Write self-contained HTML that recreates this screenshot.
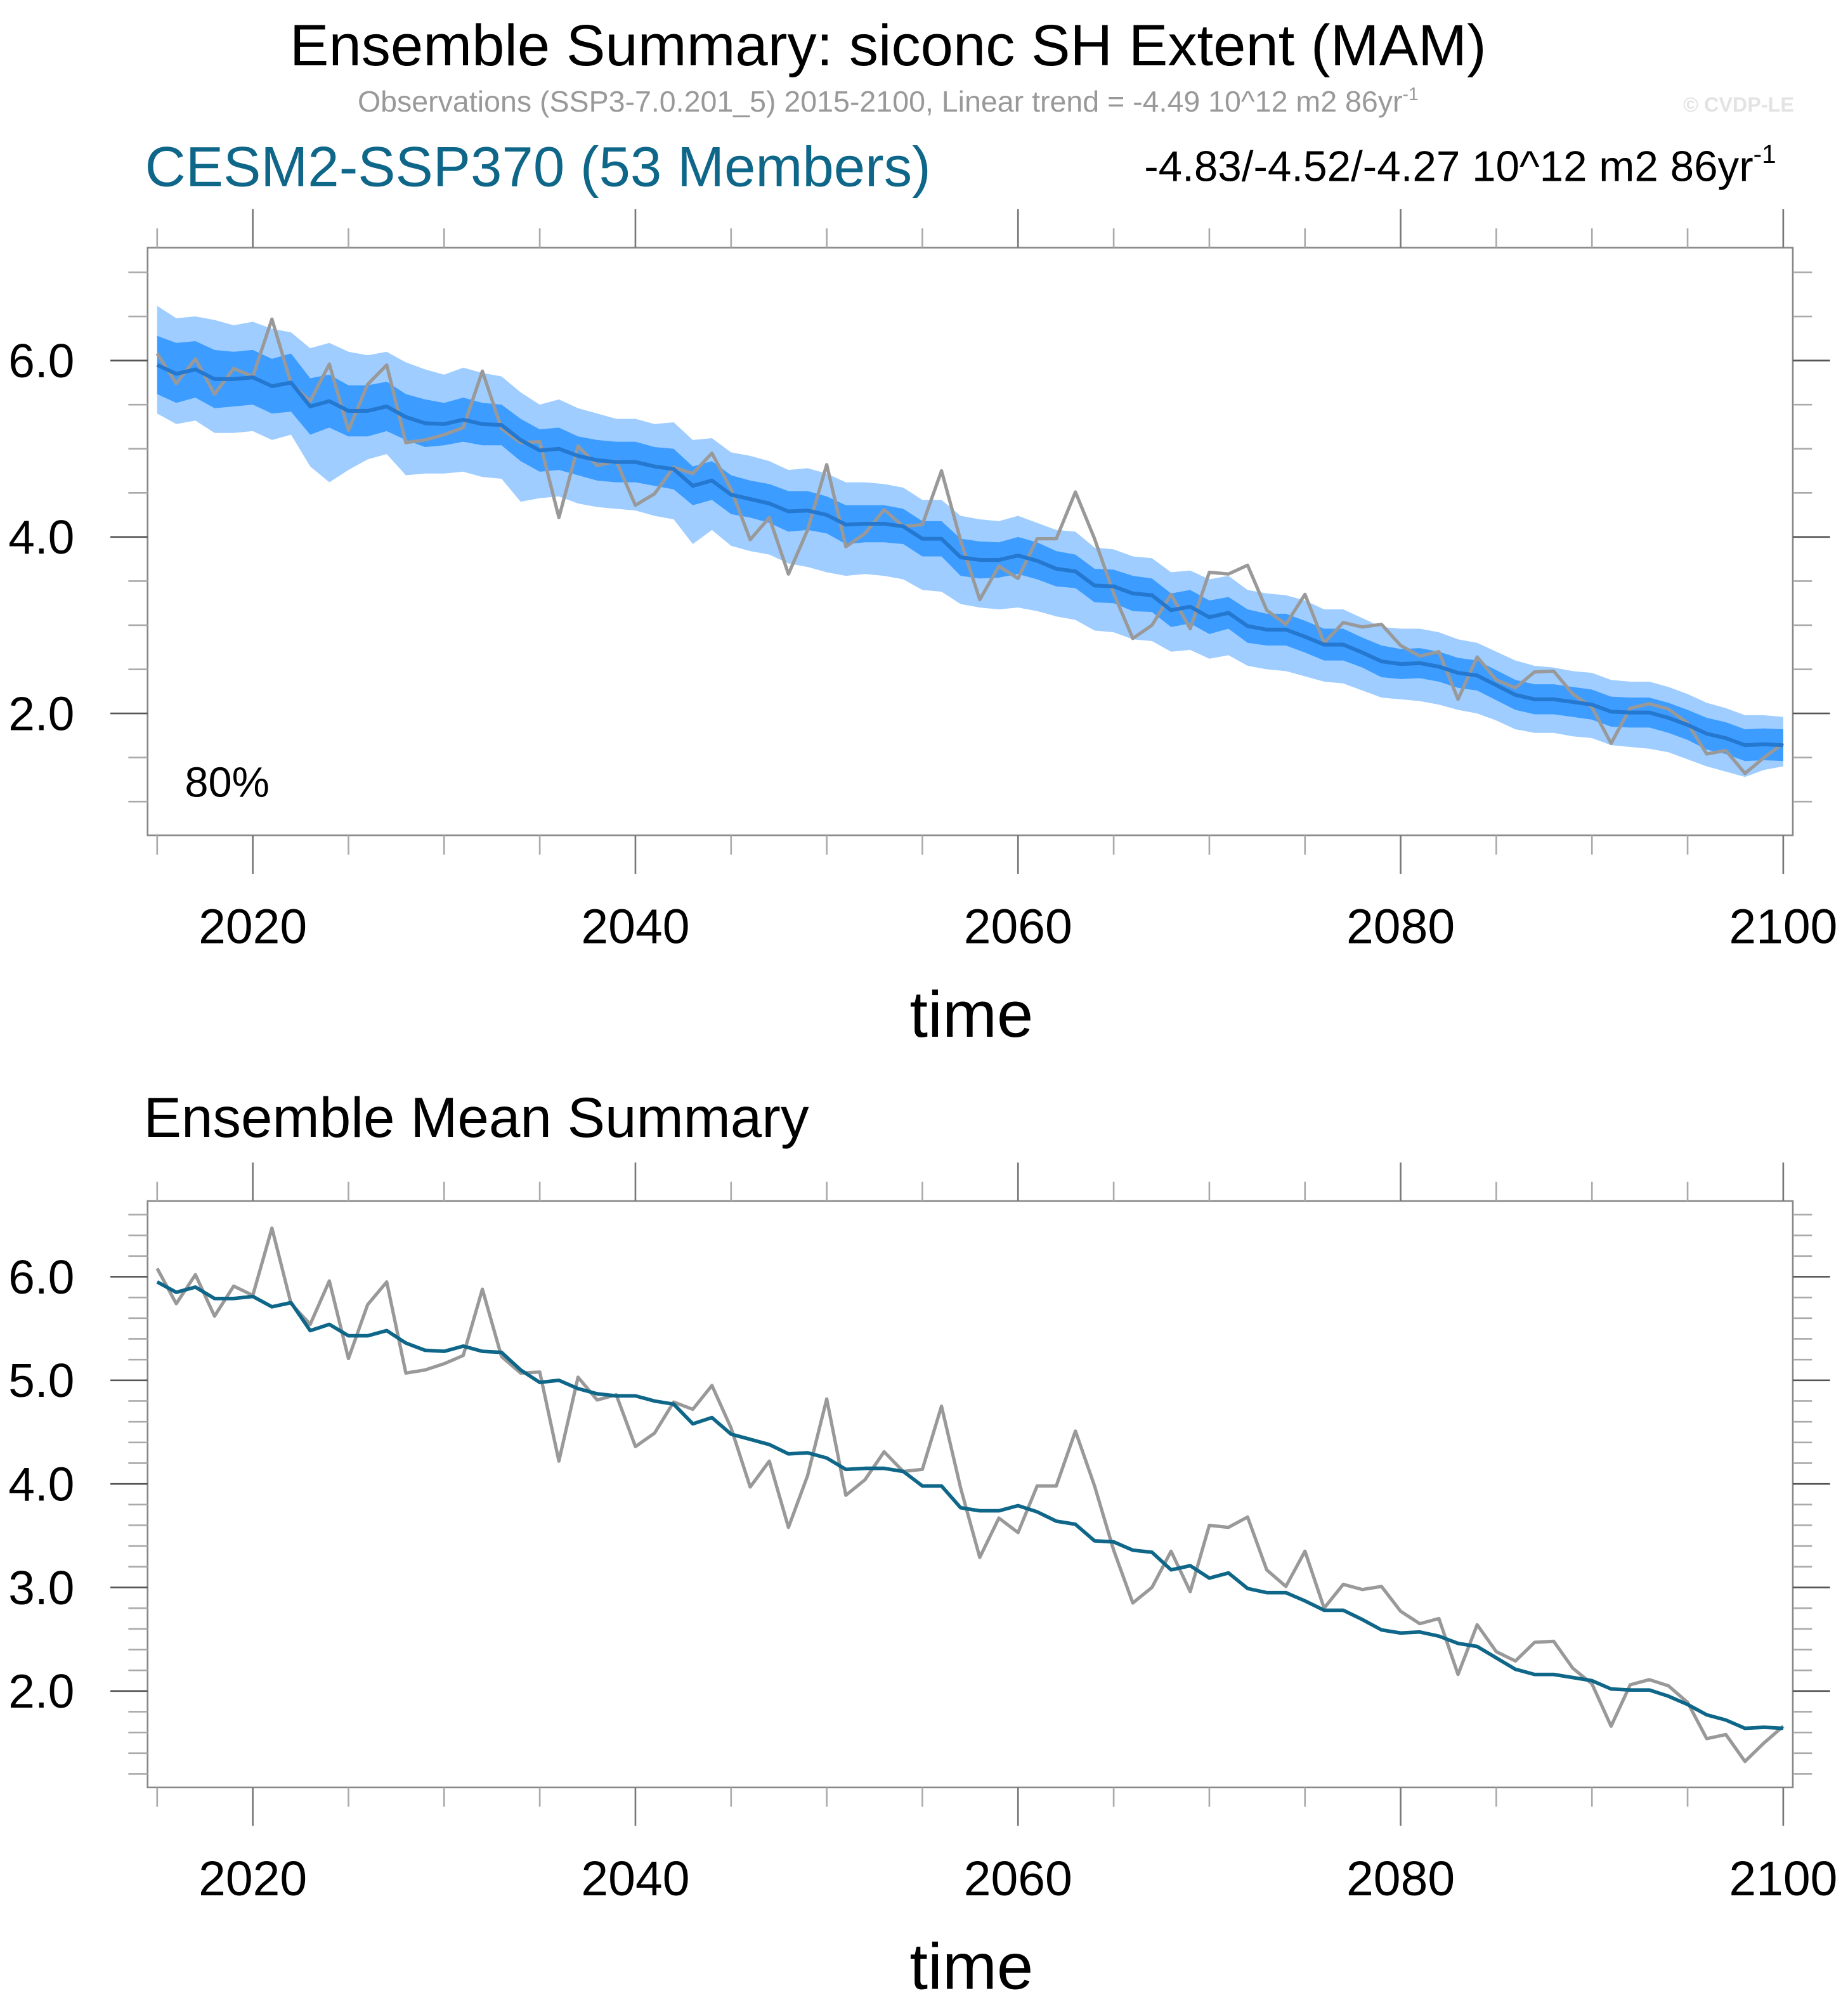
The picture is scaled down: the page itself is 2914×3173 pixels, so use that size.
<!DOCTYPE html>
<html><head><meta charset="utf-8"><style>
html,body{margin:0;padding:0;background:#fff;}
svg{display:block;font-family:"Liberation Sans",sans-serif;}
</style></head><body>
<svg id="chart" width="2914" height="3173" viewBox="0 0 1440 1568" xmlns="http://www.w3.org/2000/svg">
<rect width="1440" height="1568" fill="#fff"/>
<text x="692" y="51" font-size="45.6" text-anchor="middle" fill="#000">Ensemble Summary: siconc SH Extent (MAM)</text>
<text x="692" y="87" font-size="23" text-anchor="middle" fill="#999">Observations (SSP3-7.0.201_5) 2015-2100, Linear trend = -4.49 10^12 m2 86yr<tspan font-size="14" dy="-9">-1</tspan></text>
<text x="1398" y="87" font-size="16" font-weight="bold" text-anchor="end" fill="#e3e3e3">© CVDP-LE</text>
<text x="113" y="145" font-size="43.9" fill="#0e6688">CESM2-SSP370 (53 Members)</text>
<text x="1384" y="141" font-size="33.3" text-anchor="end" fill="#000">-4.83/-4.52/-4.27 10^12 m2 86yr<tspan font-size="20" dy="-14">-1</tspan></text>
<text x="112" y="886" font-size="44" fill="#000">Ensemble Mean Summary</text>
<g id="top"></g>
<g id="bot"></g>
</svg>
<script>
const years = [];
for (let y = 2015; y <= 2100; y++) years.push(y);
const obs = [6.08,5.74,6.02,5.62,5.91,5.82,6.47,5.74,5.54,5.96,5.21,5.73,5.95,5.07,5.10,5.16,5.24,5.88,5.23,5.07,5.08,4.22,5.03,4.81,4.86,4.36,4.49,4.79,4.72,4.95,4.54,3.97,4.22,3.58,4.08,4.82,3.89,4.04,4.31,4.12,4.14,4.75,3.96,3.29,3.67,3.53,3.98,3.98,4.51,3.98,3.36,2.85,3.00,3.35,2.96,3.60,3.58,3.68,3.17,3.01,3.35,2.80,3.03,2.98,3.01,2.77,2.65,2.70,2.16,2.64,2.38,2.29,2.47,2.48,2.22,2.07,1.66,2.06,2.11,2.05,1.89,1.54,1.58,1.32,1.50,1.66];
const ensMean = [5.95,5.85,5.90,5.79,5.79,5.81,5.71,5.75,5.48,5.54,5.43,5.43,5.48,5.36,5.29,5.28,5.33,5.28,5.27,5.10,4.98,5.00,4.92,4.87,4.85,4.85,4.80,4.77,4.58,4.64,4.48,4.43,4.38,4.29,4.30,4.25,4.14,4.15,4.15,4.12,3.98,3.98,3.77,3.74,3.74,3.79,3.73,3.64,3.61,3.45,3.44,3.36,3.34,3.17,3.21,3.09,3.14,2.99,2.95,2.95,2.87,2.78,2.78,2.69,2.59,2.56,2.57,2.53,2.46,2.43,2.32,2.21,2.16,2.16,2.13,2.10,2.02,2.01,2.01,1.95,1.87,1.77,1.72,1.64,1.65,1.64];
const darkHi = [6.28,6.20,6.22,6.12,6.10,6.12,6.02,6.08,5.80,5.84,5.72,5.72,5.76,5.62,5.56,5.52,5.58,5.52,5.50,5.34,5.22,5.24,5.14,5.10,5.08,5.08,5.02,5.00,4.80,4.86,4.70,4.64,4.60,4.52,4.52,4.46,4.36,4.36,4.36,4.32,4.18,4.18,3.98,3.95,3.94,4.00,3.94,3.84,3.80,3.64,3.63,3.56,3.53,3.36,3.40,3.28,3.32,3.18,3.13,3.13,3.05,2.96,2.96,2.86,2.77,2.73,2.74,2.70,2.63,2.60,2.49,2.38,2.33,2.33,2.30,2.27,2.19,2.18,2.18,2.12,2.04,1.95,1.90,1.82,1.83,1.82];
const darkLo = [5.62,5.52,5.58,5.46,5.48,5.50,5.40,5.42,5.16,5.24,5.14,5.14,5.20,5.10,5.02,5.04,5.08,5.04,5.04,4.86,4.74,4.76,4.70,4.64,4.62,4.62,4.58,4.54,4.36,4.42,4.26,4.22,4.16,4.06,4.08,4.04,3.92,3.94,3.94,3.92,3.78,3.78,3.56,3.53,3.54,3.58,3.52,3.44,3.42,3.26,3.25,3.16,3.15,2.98,3.02,2.90,2.96,2.80,2.77,2.77,2.69,2.60,2.60,2.52,2.41,2.39,2.40,2.36,2.29,2.26,2.15,2.04,1.99,1.99,1.96,1.93,1.85,1.84,1.84,1.78,1.70,1.59,1.54,1.46,1.47,1.46];
const lightHi = [6.62,6.48,6.50,6.46,6.40,6.44,6.36,6.32,6.14,6.20,6.10,6.06,6.10,5.98,5.90,5.84,5.92,5.86,5.82,5.64,5.50,5.56,5.46,5.40,5.34,5.34,5.28,5.30,5.10,5.12,4.96,4.92,4.86,4.76,4.78,4.72,4.62,4.62,4.60,4.56,4.42,4.42,4.24,4.20,4.18,4.24,4.16,4.08,4.06,3.88,3.86,3.78,3.76,3.60,3.62,3.52,3.56,3.40,3.36,3.34,3.28,3.18,3.18,3.08,2.98,2.96,2.96,2.92,2.84,2.80,2.70,2.60,2.54,2.52,2.48,2.46,2.38,2.36,2.36,2.30,2.22,2.12,2.06,1.98,1.98,1.96];
const lightLo = [5.40,5.28,5.32,5.18,5.18,5.20,5.10,5.16,4.80,4.62,4.76,4.88,4.94,4.70,4.72,4.72,4.74,4.68,4.66,4.40,4.44,4.46,4.38,4.34,4.32,4.30,4.24,4.20,3.92,4.08,3.90,3.84,3.80,3.70,3.66,3.60,3.56,3.58,3.56,3.52,3.40,3.38,3.24,3.20,3.18,3.20,3.16,3.10,3.06,2.94,2.92,2.84,2.82,2.70,2.72,2.62,2.66,2.54,2.50,2.48,2.42,2.36,2.34,2.26,2.18,2.16,2.14,2.10,2.04,2.00,1.92,1.82,1.78,1.78,1.74,1.72,1.64,1.62,1.60,1.56,1.48,1.40,1.34,1.28,1.36,1.40];
const xTickLabels = ["2020","2040","2060","2080","2100"];
const topYTickLabels = ["2.0","4.0","6.0"];
const botYTickLabels = ["2.0","3.0","4.0","5.0","6.0"];

const NS = "http://www.w3.org/2000/svg";
function mk(parent, tag, attrs){const e=document.createElementNS(NS,tag);for(const k in attrs)e.setAttribute(k,attrs[k]);parent.appendChild(e);return e;}

function panel(g, top, bottom, ymin, ymax, majorStep, minorStep, yLabels, isTop){
  const L=115,R=1397,x0=2014.5,x1=2100.5;
  const X=v=>L+(v-x0)/(x1-x0)*(R-L);
  const Y=v=>bottom-(v-ymin)/(ymax-ymin)*(bottom-top);
  const pts=(arr)=>arr.map((v,i)=>X(years[i]).toFixed(2)+","+Y(v).toFixed(2));
  if(isTop){
    const lb=mk(g,"polygon",{points:pts(lightHi).concat(pts(lightLo).reverse()).join(" "),fill:"#9fcdff",stroke:"none"});
    
    
    const db=mk(g,"polygon",{points:pts(darkHi).concat(pts(darkLo).reverse()).join(" "),fill:"#3d9cff",stroke:"none"});
    
    
  }
  const ol=mk(g,"polyline",{points:pts(obs).join(" "),fill:"none",stroke:"#999","stroke-width":2.6,"stroke-linejoin":"round"});
  
  
  const ml=mk(g,"polyline",{points:pts(ensMean).join(" "),fill:"none",stroke:isTop?"#2478d0":"#0e6688","stroke-width":isTop?3:2.8,"stroke-linejoin":"round"});
  
  
  const box=mk(g,"rect",{x:L,y:top,width:R-L,height:bottom-top,fill:"none",stroke:"#888","stroke-width":1.3});
  
  
  for(let yr=2015;yr<=2100;yr+=5){
    const maj=yr%20===0, len=maj?30:15, x=X(yr);
    mk(g,"line",{x1:x,x2:x,y1:top,y2:top-len,stroke:maj?"#777":"#aaa","stroke-width":1.3});
    mk(g,"line",{x1:x,x2:x,y1:bottom,y2:bottom+len,stroke:maj?"#777":"#aaa","stroke-width":1.3});
  }
  xTickLabels.forEach(s=>{
    const t=mk(g,"text",{x:X(+s),y:bottom+84,"font-size":38,"text-anchor":"middle",fill:"#000"});
    t.textContent=s;
    
    
  });
  const xt=mk(g,"text",{x:757,y:bottom+157,"font-size":51,"text-anchor":"middle",fill:"#000"});
  xt.textContent="time";
  
  
  const start=Math.ceil(ymin/minorStep-1e-6);
  for(let k=start;k*minorStep<=ymax+1e-6;k++){
    const v=k*minorStep; const y=Y(v);
    if(y<top-0.5||y>bottom+0.5) continue;
    const maj=Math.abs(v/majorStep-Math.round(v/majorStep))<1e-6, len=maj?29:15;
    mk(g,"line",{x1:L,x2:L-len,y1:y,y2:y,stroke:maj?"#555":"#aaa","stroke-width":1.3});
    mk(g,"line",{x1:R,x2:R+len,y1:y,y2:y,stroke:maj?"#555":"#aaa","stroke-width":1.3});
  }
  yLabels.forEach(s=>{
    const t=mk(g,"text",{x:58,y:Y(+s)+13,"font-size":37,"text-anchor":"end",fill:"#000"});
    t.textContent=s;
    
    
  });
  if(isTop){
    const p=mk(g,"text",{x:144,y:621,"font-size":33,fill:"#000"});
    p.textContent="80%";
    
    
  }
}
panel(document.getElementById("top"),193,651,0.618,7.28,2,0.5,topYTickLabels,true);
panel(document.getElementById("bot"),936,1393,1.069,6.731,1,0.2,botYTickLabels,false);
</script>
</body></html>
